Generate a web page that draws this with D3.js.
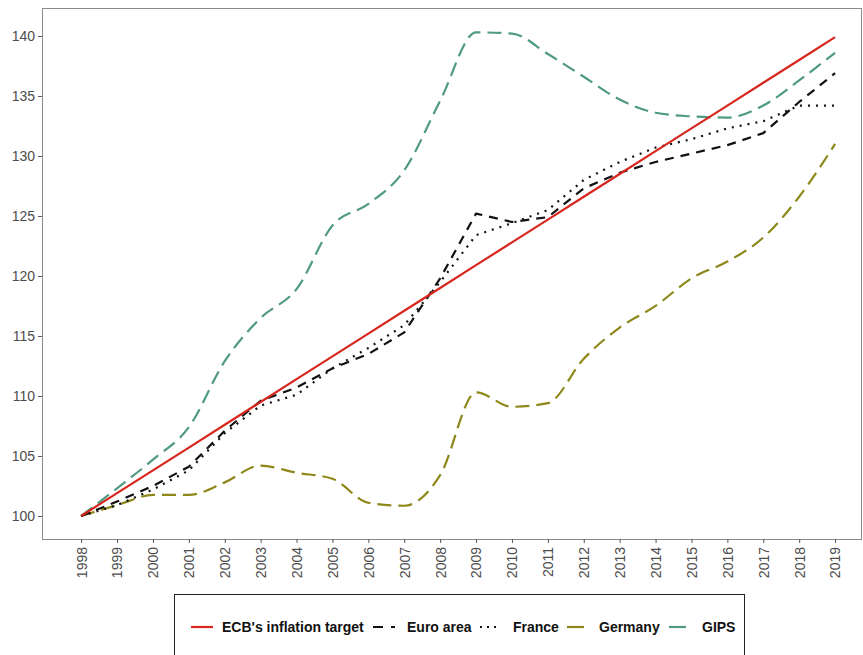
<!DOCTYPE html>
<html><head><meta charset="utf-8">
<script src="https://cdn.jsdelivr.net/npm/d3@7"></script>
<style>body{margin:0;background:#fff;font-family:"Liberation Sans",Arial,sans-serif;}</style>
</head><body>
<svg id="chart" width="863" height="655"></svg>
<script>
const years = [1998,1999,2000,2001,2002,2003,2004,2005,2006,2007,2008,2009,2010,2011,2012,2013,2014,2015,2016,2017,2018,2019];
const ecbTarget = [100,101.9,103.8,105.7,107.6,109.5,111.4,113.3,115.2,117.1,119.0,120.9,122.8,124.7,126.6,128.5,130.4,132.3,134.2,136.1,138.0,139.9];
const euroArea = [100,101.2,102.5,104.1,107.1,109.6,110.7,112.3,113.5,115.3,119.8,125.2,124.5,124.9,127.3,128.6,129.5,130.2,130.9,131.9,134.5,136.9];
const france   = [100,100.9,102.2,103.8,106.9,109.2,110.1,112.3,114.0,115.9,119.5,123.4,124.4,125.5,128.0,129.5,130.7,131.4,132.3,132.9,134.2,134.2];
const germany  = [100,100.9,101.75,101.75,102.8,104.2,103.6,103.1,101.1,100.85,103.4,110.3,109.1,109.4,113.1,115.7,117.5,119.8,121.2,123.2,126.6,131.0];
const gips     = [100,102.3,104.7,107.4,112.9,116.5,118.9,124.2,126.0,128.8,134.6,140.3,140.2,138.5,136.6,134.7,133.6,133.3,133.2,134.2,136.3,138.6];
const yTicks = [100,105,110,115,120,125,130,135,140];
const seriesNames = ["ECB's inflation target","Euro area","France","Germany","GIPS"];

const series = [
  {name: seriesNames[0], values: ecbTarget, color: "#d7261e", dash: null, smooth: false},
  {name: seriesNames[1], values: euroArea, color: "#111111", dash: "9,7", smooth: false},
  {name: seriesNames[2], values: france, color: "#111111", dash: "2,6", smooth: false},
  {name: seriesNames[3], values: germany, color: "#8e8719", dash: "14,7", smooth: true},
  {name: seriesNames[4], values: gips, color: "#4f9a80", dash: "14,7", smooth: true}
];

const svg = d3.select("#chart");
const pLeft = 42, pTop = 8, pRight = 862, pBottom = 539;

const x = d3.scaleLinear().domain([1996.91, 2019.75]).range([pLeft, pRight]);
const y = d3.scaleLinear().domain([98.08, 142.33]).range([pBottom, pTop]);

// panel border
svg.append("rect").attr("x", pLeft+0.5).attr("y", pTop+0.5)
  .attr("width", pRight-pLeft-1).attr("height", pBottom-pTop)
  .attr("fill", "none").attr("stroke", "#8a8a8a").attr("stroke-width", 1);

// y axis
const yAxis = svg.append("g").attr("transform", `translate(${pLeft},0)`)
  .call(d3.axisLeft(y).tickValues(yTicks).tickSize(4).tickPadding(3));
yAxis.select(".domain").remove();
yAxis.selectAll("line").attr("stroke", "#555");
yAxis.selectAll("text").attr("fill", "#4d4d4d").style("font-size", "14px")
  .style("font-family", "Liberation Sans, Arial, sans-serif");

// x axis
const xAxis = svg.append("g").attr("transform", `translate(0,${pBottom})`)
  .call(d3.axisBottom(x).tickValues(years).tickFormat(d3.format("d")).tickSize(4));
xAxis.select(".domain").remove();
xAxis.selectAll("line").attr("stroke", "#555");
xAxis.selectAll("text")
  .attr("fill", "#4d4d4d").style("font-size", "14px")
  .style("font-family", "Liberation Sans, Arial, sans-serif")
  .attr("transform", "rotate(-90)")
  .attr("text-anchor", "end")
  .attr("x", -8).attr("y", 0).attr("dy", "0.35em");

// lines
const lineSmooth = d3.line().x((d, i) => x(years[i])).y(d => y(d)).curve(d3.curveMonotoneX);
const lineStraight = d3.line().x((d, i) => x(years[i])).y(d => y(d));
const drawOrder = [4, 3, 2, 1, 0];
drawOrder.forEach(k => {
  const s = series[k];
  svg.append("path").datum(s.values)
    .attr("d", s.smooth ? lineSmooth : lineStraight)
    .attr("fill", "none")
    .attr("stroke", s.color)
    .attr("stroke-width", 2.2)
    .attr("stroke-dasharray", s.dash)
    .attr("stroke-linejoin", "round")
    .attr("stroke-linecap", "butt");
});

// legend
const lg = svg.append("g");
lg.append("rect").attr("x", 174.5).attr("y", 594.5).attr("width", 570).attr("height", 70)
  .attr("fill", "#fff").attr("stroke", "#222").attr("stroke-width", 1);
const keyX = [191, 373, 480, 567, 669];
const keyW = [22, 22, 17, 17, 17];
const textX = [222, 407, 513, 599, 702];
const ly = 627;
series.forEach((s, i) => {
  lg.append("line").attr("x1", keyX[i]).attr("x2", keyX[i] + keyW[i])
    .attr("y1", ly).attr("y2", ly)
    .attr("stroke", s.color).attr("stroke-width", 2.2)
    .attr("stroke-dasharray", i === 1 ? "10,8" : (i === 2 ? "2,5" : null));
  lg.append("text").attr("x", textX[i]).attr("y", ly).attr("dy", "0.35em")
    .text(s.name).style("font-size", "14px").style("font-weight", "bold")
    .style("font-family", "Liberation Sans, Arial, sans-serif").attr("fill", "#111");
});
</script>
</body></html>
